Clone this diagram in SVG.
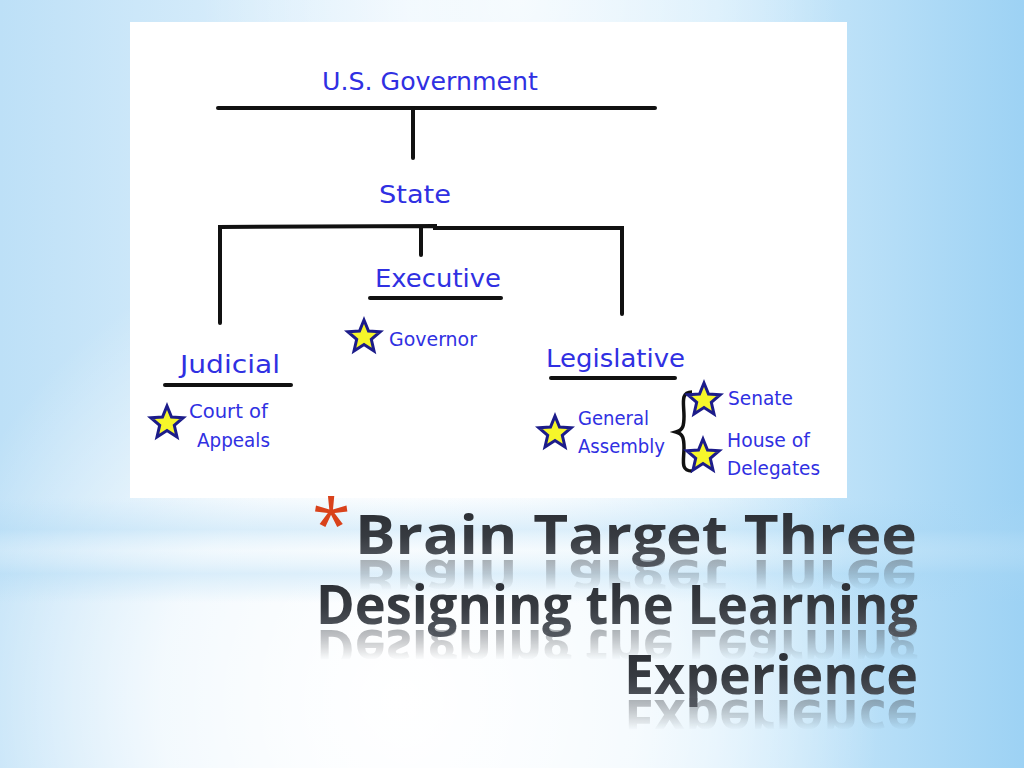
<svg xmlns="http://www.w3.org/2000/svg" width="1024" height="768" viewBox="0 0 1024 768">
<defs>
  <linearGradient id="bgh" x1="0" y1="0" x2="1" y2="0">
    <stop offset="0" stop-color="#bde0f7"/>
    <stop offset="0.4" stop-color="#e9f5fd"/>
    <stop offset="0.7" stop-color="#d3ecfb"/>
    <stop offset="1" stop-color="#9dd2f4"/>
  </linearGradient>
  <radialGradient id="glow" cx="400" cy="700" r="480" gradientUnits="userSpaceOnUse">
    <stop offset="0" stop-color="#ffffff" stop-opacity="1"/>
    <stop offset="0.5" stop-color="#ffffff" stop-opacity="0.75"/>
    <stop offset="1" stop-color="#ffffff" stop-opacity="0"/>
  </radialGradient>
  <radialGradient id="topglow" cx="520" cy="0" r="320" gradientUnits="userSpaceOnUse">
    <stop offset="0" stop-color="#ffffff" stop-opacity="0.7"/>
    <stop offset="1" stop-color="#ffffff" stop-opacity="0"/>
  </radialGradient>
  <linearGradient id="band" x1="0" y1="0" x2="0" y2="1">
    <stop offset="0" stop-color="#a7d6f4" stop-opacity="0"/>
    <stop offset="0.3" stop-color="#a7d6f4" stop-opacity="0.35"/>
    <stop offset="0.5" stop-color="#e4f3fc" stop-opacity="0.2"/>
    <stop offset="0.72" stop-color="#a7d6f4" stop-opacity="0.35"/>
    <stop offset="1" stop-color="#a7d6f4" stop-opacity="0"/>
  </linearGradient>
  <linearGradient id="tg" x1="0" y1="0" x2="0" y2="1">
    <stop offset="0" stop-color="#26292e"/>
    <stop offset="0.55" stop-color="#373b41"/>
    <stop offset="1" stop-color="#5f646c"/>
  </linearGradient>
  <linearGradient id="fade" x1="0" y1="0" x2="0" y2="1">
    <stop offset="0" stop-color="#fff" stop-opacity="0.6"/>
    <stop offset="1" stop-color="#fff" stop-opacity="0"/>
  </linearGradient>
  <mask id="m1" maskUnits="userSpaceOnUse" x="0" y="0" width="1024" height="768"><rect x="0" y="558" width="1024" height="32" fill="url(#fade)"/></mask>
  <mask id="m2" maskUnits="userSpaceOnUse" x="0" y="0" width="1024" height="768"><rect x="0" y="628" width="1024" height="32" fill="url(#fade)"/></mask>
  <mask id="m3" maskUnits="userSpaceOnUse" x="0" y="0" width="1024" height="768"><rect x="0" y="698" width="1024" height="32" fill="url(#fade)"/></mask>
  <polygon id="star" points="0,-17 4.5,-6 16.2,-5.3 7.3,2.3 10,14 0,7.5 -10,14 -7.3,2.3 -16.2,-5.3 -4.5,-6"/>
  <style>
    .t{font-family:"DejaVu Sans","Liberation Sans",sans-serif;fill:#3030e2;}
    .big{font-size:25px;}
    .sm{font-size:19px;}
    .ln{stroke:#111;stroke-width:4;stroke-linecap:round;fill:none;}
    .st{fill:#f6f62a;stroke:#1c1c8a;stroke-width:3;stroke-linejoin:miter;}
    .title{font-family:"Open Sans","Noto Sans",sans-serif;font-weight:700;font-size:53px;fill:url(#tg);}
  </style>
</defs>

<rect x="0" y="0" width="1024" height="768" fill="url(#bgh)"/>
<rect x="0" y="0" width="1024" height="768" fill="url(#glow)"/>
<rect x="0" y="0" width="1024" height="768" fill="url(#topglow)"/>
<rect x="0" y="498" width="1024" height="105" fill="url(#band)"/>

<rect x="130" y="22" width="717" height="476" fill="#ffffff"/>

<g id="connectors">
  <line class="ln" x1="218" y1="108" x2="655" y2="108"/>
  <line class="ln" x1="413" y1="108" x2="413" y2="158"/>
  <polyline class="ln" points="220,323 220,227 435,226 435,228 622,228 622,314"/>
  <line class="ln" x1="421" y1="228" x2="421" y2="255"/>
</g>

<g id="node-usgov">
  <text class="t big" x="322" y="90" textLength="216" lengthAdjust="spacingAndGlyphs">U.S. Government</text>
</g>
<g id="node-state">
  <text class="t big" x="379" y="203" textLength="72" lengthAdjust="spacingAndGlyphs">State</text>
</g>
<g id="node-executive">
  <text class="t big" x="375" y="287" font-size="27" textLength="126" lengthAdjust="spacingAndGlyphs">Executive</text>
  <line class="ln" x1="370" y1="298" x2="501" y2="298"/>
</g>
<g id="node-governor">
  <use href="#star" class="st" x="364" y="337"/>
  <text class="t sm" x="389" y="346" textLength="88" lengthAdjust="spacingAndGlyphs">Governor</text>
</g>
<g id="node-judicial">
  <text class="t big" x="180" y="373" font-size="27" textLength="100" lengthAdjust="spacingAndGlyphs">Judicial</text>
  <line class="ln" x1="165" y1="385" x2="291" y2="385"/>
</g>
<g id="node-court">
  <use href="#star" class="st" x="167" y="423"/>
  <text class="t sm" x="189" y="418" textLength="79" lengthAdjust="spacingAndGlyphs">Court of</text>
  <text class="t sm" x="197" y="447" textLength="73" lengthAdjust="spacingAndGlyphs">Appeals</text>
</g>
<g id="node-legislative">
  <text class="t big" x="546" y="367" font-size="27" textLength="139" lengthAdjust="spacingAndGlyphs">Legislative</text>
  <line class="ln" x1="551" y1="378" x2="675" y2="378"/>
</g>
<g id="node-general">
  <use href="#star" class="st" x="555" y="433"/>
  <text class="t sm" x="578" y="425" textLength="71" lengthAdjust="spacingAndGlyphs">General</text>
  <text class="t sm" x="578" y="453" textLength="87" lengthAdjust="spacingAndGlyphs">Assembly</text>
  <path d="M692,392 C680,392 684,404 684,416 C684,426 683,430 676,432 C683,434 684,438 684,448 C684,460 680,471 692,471" fill="none" stroke="#111" stroke-width="3.5"/>
</g>
<g id="node-senate">
  <use href="#star" class="st" x="704" y="400"/>
  <text class="t sm" x="728" y="405" textLength="65" lengthAdjust="spacingAndGlyphs">Senate</text>
</g>
<g id="node-house">
  <use href="#star" class="st" x="703" y="456"/>
  <text class="t sm" x="727" y="447" textLength="83" lengthAdjust="spacingAndGlyphs">House of</text>
  <text class="t sm" x="727" y="475" textLength="93" lengthAdjust="spacingAndGlyphs">Delegates</text>
</g>

<g id="title">
  <text x="312" y="549" font-family="Open Sans, sans-serif" font-weight="400" font-size="70" fill="#d9421b">*</text>
  <text class="title" x="355" y="554" textLength="562" lengthAdjust="spacingAndGlyphs">Brain Target Three</text>
  <text class="title" x="316" y="624" textLength="602" lengthAdjust="spacingAndGlyphs">Designing the Learning</text>
  <text class="title" x="624" y="694" textLength="294" lengthAdjust="spacingAndGlyphs">Experience</text>
  <g opacity="0.75">
    <g mask="url(#m1)"><text class="title" transform="translate(0,1114) scale(1,-1)" x="355" y="554" textLength="562" lengthAdjust="spacingAndGlyphs">Brain Target Three</text></g>
    <g mask="url(#m2)"><text class="title" transform="translate(0,1254) scale(1,-1)" x="316" y="624" textLength="602" lengthAdjust="spacingAndGlyphs">Designing the Learning</text></g>
    <g mask="url(#m3)"><text class="title" transform="translate(0,1394) scale(1,-1)" x="624" y="694" textLength="294" lengthAdjust="spacingAndGlyphs">Experience</text></g>
  </g>
</g>
</svg>
